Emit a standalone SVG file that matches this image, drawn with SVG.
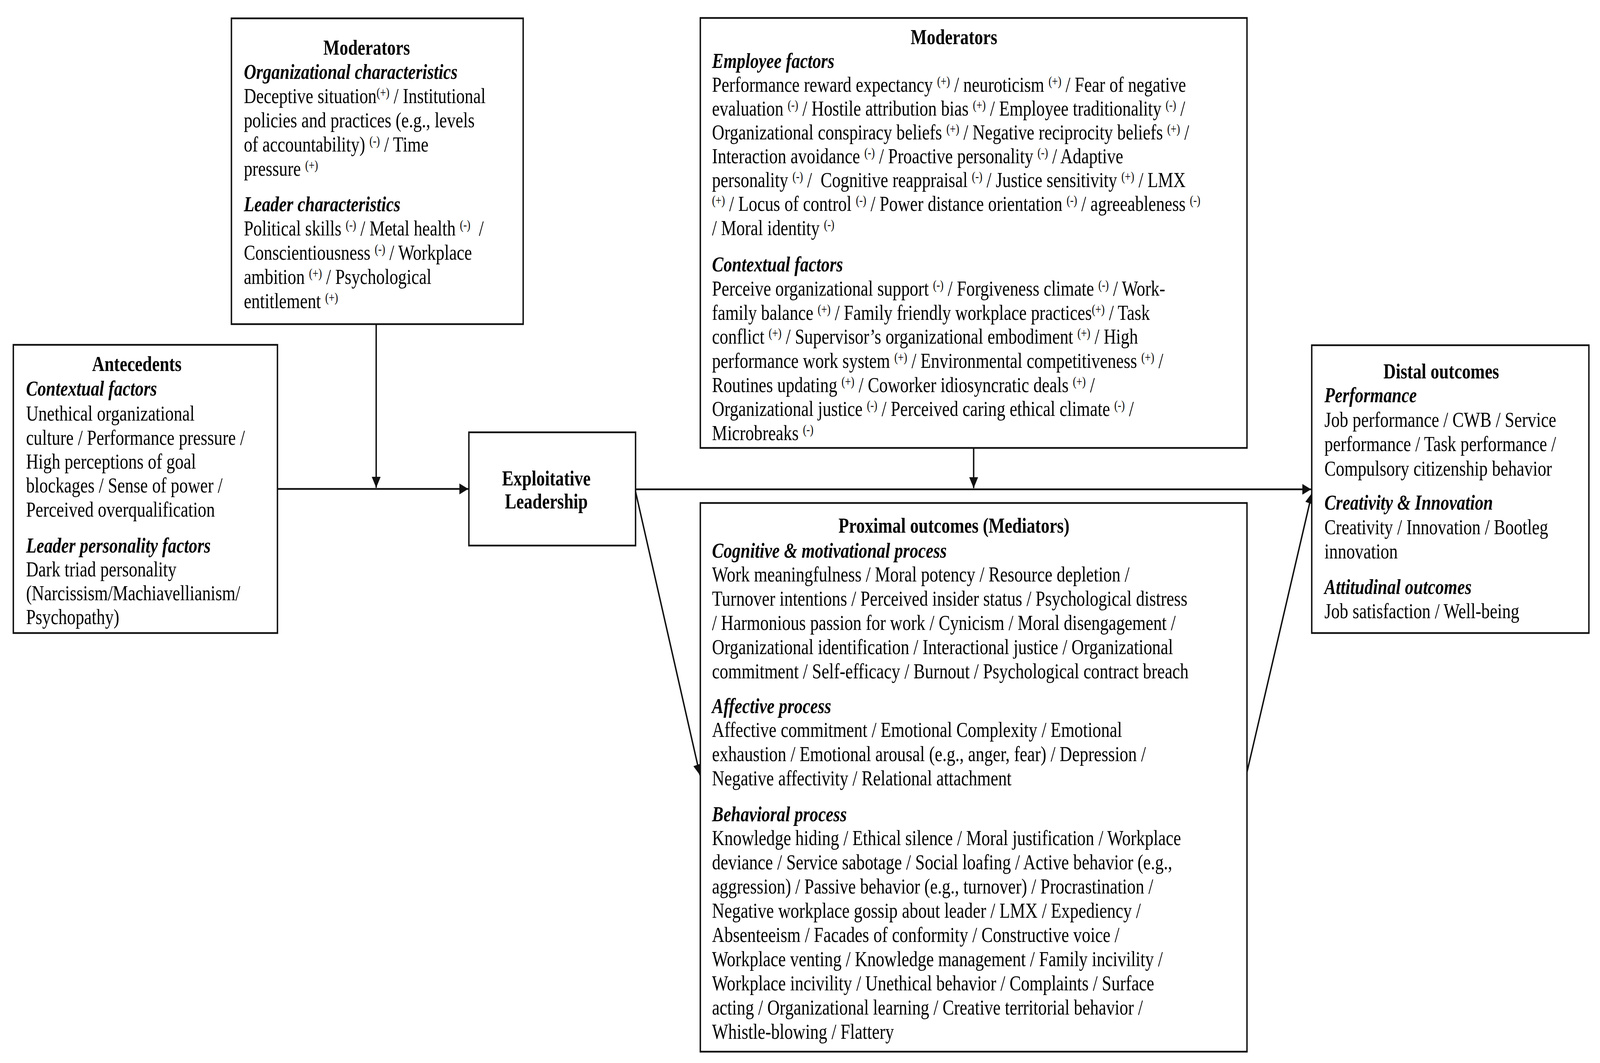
<svg xmlns="http://www.w3.org/2000/svg" width="5040" height="2722" viewBox="0 0 5040 2722" preserveAspectRatio="none" style="width:100%;height:100%">
<style>
.box{fill:#fff;stroke:#111;stroke-width:4.5}
.t{font-family:"Liberation Serif","Times New Roman",serif;font-size:54px;fill:#000}
.h{font-weight:bold}
.s{font-weight:bold;font-style:italic}
.c{text-anchor:middle}
.sup{font-size:33px}
.ln{stroke:#111;stroke-width:4.5;fill:none}
</style>
<defs>
<marker id="ah" markerUnits="userSpaceOnUse" markerWidth="30" markerHeight="30" refX="28" refY="14" orient="auto">
<path d="M0,0 L28,14 L0,28 z" fill="#111"/>
</marker>
</defs>
<rect width="5040" height="2722" fill="#fff"/>
<g id="connectors">
<line class="ln" x1="874" y1="1252" x2="1475" y2="1252" marker-end="url(#ah)"/>
<line class="ln" x1="1185" y1="830" x2="1185" y2="1249" marker-end="url(#ah)"/>
<line class="ln" x1="2002" y1="1253" x2="4130" y2="1253" marker-end="url(#ah)"/>
<line class="ln" x1="3067" y1="1147" x2="3067" y2="1250" marker-end="url(#ah)"/>
<line class="ln" x1="2002" y1="1259" x2="2205" y2="1985" marker-end="url(#ah)"/>
<line class="ln" x1="3928" y1="1977" x2="4133" y2="1262" marker-end="url(#ah)"/>
</g>
<g id="moderators-left">
<rect class="box" x="729" y="47" width="919" height="783"/>
<text class="t h c" x="1155" y="140">Moderators</text>
<text class="t s" x="768" y="202">Organizational characteristics</text>
<text class="t" x="768" y="264">Deceptive situation<tspan class="sup" dy="-16">(+)</tspan><tspan dy="16"> / Institutional</tspan></text>
<text class="t" x="768" y="326">policies and practices (e.g., levels</text>
<text class="t" x="768" y="388">of accountability) <tspan class="sup" dy="-16">(-)</tspan><tspan dy="16"> / Time</tspan></text>
<text class="t" x="768" y="450">pressure <tspan class="sup" dy="-16">(+)</tspan></text>
<text class="t s" x="768" y="541">Leader characteristics</text>
<text class="t" x="768" y="603" xml:space="preserve">Political skills <tspan class="sup" dy="-16">(-)</tspan><tspan dy="16"> / Metal health </tspan><tspan class="sup" dy="-16">(-)</tspan><tspan dy="16">  /</tspan></text>
<text class="t" x="768" y="665">Conscientiousness <tspan class="sup" dy="-16">(-)</tspan><tspan dy="16"> / Workplace</tspan></text>
<text class="t" x="768" y="727">ambition <tspan class="sup" dy="-16">(+)</tspan><tspan dy="16"> / Psychological</tspan></text>
<text class="t" x="768" y="789">entitlement <tspan class="sup" dy="-16">(+)</tspan></text>
</g>
<g id="antecedents">
<rect class="box" x="42" y="883" width="832" height="738"/>
<text class="t h c" x="431" y="950">Antecedents</text>
<text class="t s" x="82" y="1013">Contextual factors</text>
<text class="t" x="82" y="1077">Unethical organizational</text>
<text class="t" x="82" y="1139">culture / Performance pressure /</text>
<text class="t" x="82" y="1200">High perceptions of goal</text>
<text class="t" x="82" y="1261">blockages / Sense of power /</text>
<text class="t" x="82" y="1323">Perceived overqualification</text>
<text class="t s" x="82" y="1415">Leader personality factors</text>
<text class="t" x="82" y="1476">Dark triad personality</text>
<text class="t" x="82" y="1537">(Narcissism/Machiavellianism/</text>
<text class="t" x="82" y="1598">Psychopathy)</text>
</g>
<g id="exploitative-leadership">
<rect class="box" x="1477" y="1107" width="525" height="290"/>
<text class="t h c" x="1721" y="1243">Exploitative</text>
<text class="t h c" x="1721" y="1302">Leadership</text>
</g>
<g id="moderators-right">
<rect class="box" x="2206" y="46" width="1722" height="1101"/>
<text class="t h c" x="3005" y="113">Moderators</text>
<text class="t s" x="2243" y="174">Employee factors</text>
<text class="t" x="2243" y="235">Performance reward expectancy <tspan class="sup" dy="-16">(+)</tspan><tspan dy="16"> / neuroticism </tspan><tspan class="sup" dy="-16">(+)</tspan><tspan dy="16"> / Fear of negative</tspan></text>
<text class="t" x="2243" y="296">evaluation <tspan class="sup" dy="-16">(-)</tspan><tspan dy="16"> / Hostile attribution bias </tspan><tspan class="sup" dy="-16">(+)</tspan><tspan dy="16"> / Employee traditionality </tspan><tspan class="sup" dy="-16">(-)</tspan><tspan dy="16"> /</tspan></text>
<text class="t" x="2243" y="357">Organizational conspiracy beliefs <tspan class="sup" dy="-16">(+)</tspan><tspan dy="16"> / Negative reciprocity beliefs </tspan><tspan class="sup" dy="-16">(+)</tspan><tspan dy="16"> /</tspan></text>
<text class="t" x="2243" y="418">Interaction avoidance <tspan class="sup" dy="-16">(-)</tspan><tspan dy="16"> / Proactive personality </tspan><tspan class="sup" dy="-16">(-)</tspan><tspan dy="16"> / Adaptive</tspan></text>
<text class="t" x="2243" y="479" xml:space="preserve">personality <tspan class="sup" dy="-16">(-)</tspan><tspan dy="16"> /  Cognitive reappraisal </tspan><tspan class="sup" dy="-16">(-)</tspan><tspan dy="16"> / Justice sensitivity </tspan><tspan class="sup" dy="-16">(+)</tspan><tspan dy="16"> / LMX</tspan></text>
<text class="t" x="2243" y="540"><tspan class="sup" dy="-16">(+)</tspan><tspan dy="16"> / Locus of control </tspan><tspan class="sup" dy="-16">(-)</tspan><tspan dy="16"> / Power distance orientation </tspan><tspan class="sup" dy="-16">(-)</tspan><tspan dy="16"> / agreeableness </tspan><tspan class="sup" dy="-16">(-)</tspan></text>
<text class="t" x="2243" y="602">/ Moral identity <tspan class="sup" dy="-16">(-)</tspan></text>
<text class="t s" x="2243" y="695">Contextual factors</text>
<text class="t" x="2243" y="757">Perceive organizational support <tspan class="sup" dy="-16">(-)</tspan><tspan dy="16"> / Forgiveness climate </tspan><tspan class="sup" dy="-16">(-)</tspan><tspan dy="16"> / Work-</tspan></text>
<text class="t" x="2243" y="819">family balance <tspan class="sup" dy="-16">(+)</tspan><tspan dy="16"> / Family friendly workplace practices</tspan><tspan class="sup" dy="-16">(+)</tspan><tspan dy="16"> / Task</tspan></text>
<text class="t" x="2243" y="880">conflict <tspan class="sup" dy="-16">(+)</tspan><tspan dy="16"> / Supervisor’s organizational embodiment </tspan><tspan class="sup" dy="-16">(+)</tspan><tspan dy="16"> / High</tspan></text>
<text class="t" x="2243" y="942">performance work system <tspan class="sup" dy="-16">(+)</tspan><tspan dy="16"> / Environmental competitiveness </tspan><tspan class="sup" dy="-16">(+)</tspan><tspan dy="16"> /</tspan></text>
<text class="t" x="2243" y="1004">Routines updating <tspan class="sup" dy="-16">(+)</tspan><tspan dy="16"> / Coworker idiosyncratic deals </tspan><tspan class="sup" dy="-16">(+)</tspan><tspan dy="16"> /</tspan></text>
<text class="t" x="2243" y="1065">Organizational justice <tspan class="sup" dy="-16">(-)</tspan><tspan dy="16"> / Perceived caring ethical climate </tspan><tspan class="sup" dy="-16">(-)</tspan><tspan dy="16"> /</tspan></text>
<text class="t" x="2243" y="1127">Microbreaks <tspan class="sup" dy="-16">(-)</tspan></text>
</g>
<g id="proximal-outcomes">
<rect class="box" x="2206" y="1288" width="1722" height="1405"/>
<text class="t h c" x="3005" y="1364">Proximal outcomes (Mediators)</text>
<text class="t s" x="2243" y="1428">Cognitive &amp; motivational process</text>
<text class="t" x="2243" y="1489">Work meaningfulness / Moral potency / Resource depletion /</text>
<text class="t" x="2243" y="1551">Turnover intentions / Perceived insider status / Psychological distress</text>
<text class="t" x="2243" y="1613">/ Harmonious passion for work / Cynicism / Moral disengagement /</text>
<text class="t" x="2243" y="1675">Organizational identification / Interactional justice / Organizational</text>
<text class="t" x="2243" y="1737">commitment / Self-efficacy / Burnout / Psychological contract breach</text>
<text class="t s" x="2243" y="1826">Affective process</text>
<text class="t" x="2243" y="1887">Affective commitment / Emotional Complexity / Emotional</text>
<text class="t" x="2243" y="1949">exhaustion / Emotional arousal (e.g., anger, fear) / Depression /</text>
<text class="t" x="2243" y="2011">Negative affectivity / Relational attachment</text>
<text class="t s" x="2243" y="2103">Behavioral process</text>
<text class="t" x="2243" y="2164">Knowledge hiding / Ethical silence / Moral justification / Workplace</text>
<text class="t" x="2243" y="2226">deviance / Service sabotage / Social loafing / Active behavior (e.g.,</text>
<text class="t" x="2243" y="2288">aggression) / Passive behavior (e.g., turnover) / Procrastination /</text>
<text class="t" x="2243" y="2350">Negative workplace gossip about leader / LMX / Expediency /</text>
<text class="t" x="2243" y="2412">Absenteeism / Facades of conformity / Constructive voice /</text>
<text class="t" x="2243" y="2474">Workplace venting / Knowledge management / Family incivility /</text>
<text class="t" x="2243" y="2536">Workplace incivility / Unethical behavior / Complaints / Surface</text>
<text class="t" x="2243" y="2598">acting / Organizational learning / Creative territorial behavior /</text>
<text class="t" x="2243" y="2660">Whistle-blowing / Flattery</text>
</g>
<g id="distal-outcomes">
<rect class="box" x="4132" y="884" width="873" height="737"/>
<text class="t h c" x="4540" y="969">Distal outcomes</text>
<text class="t s" x="4172" y="1030">Performance</text>
<text class="t" x="4172" y="1093">Job performance / CWB / Service</text>
<text class="t" x="4172" y="1155">performance / Task performance /</text>
<text class="t" x="4172" y="1218">Compulsory citizenship behavior</text>
<text class="t s" x="4172" y="1305">Creativity &amp; Innovation</text>
<text class="t" x="4172" y="1368">Creativity / Innovation / Bootleg</text>
<text class="t" x="4172" y="1430">innovation</text>
<text class="t s" x="4172" y="1521">Attitudinal outcomes</text>
<text class="t" x="4172" y="1583">Job satisfaction / Well-being</text>
</g>
</svg>
